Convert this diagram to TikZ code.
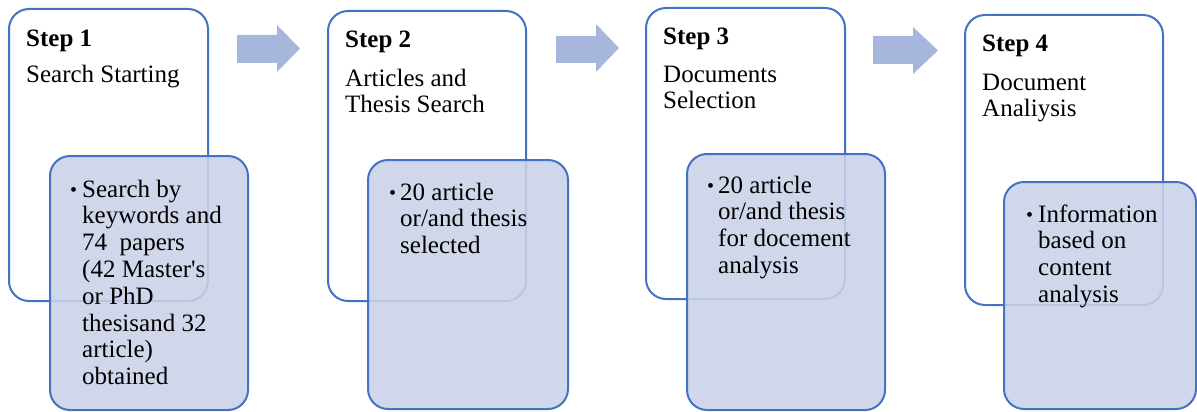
\documentclass[tikz,border=0pt]{standalone}
\usepackage{fontspec}
\setmainfont{Liberation Serif}
\definecolor{bordercol}{RGB}{68,114,196}
\definecolor{bluefill}{RGB}{202,210,232}
\definecolor{arrowcol}{RGB}{166,182,220}
\newcommand\mylines[1]{\parbox[t]{300pt}{\raggedright #1}}
\tikzset{
  stepbox/.style={draw=bordercol, line width=2pt, rounded corners=20pt, fill=white, inner sep=0pt, anchor=north west},
  detailbox/.style={draw=bordercol, line width=2pt, rounded corners=20pt, fill=bluefill, fill opacity=0.88, draw opacity=1, inner sep=0pt, anchor=north west},
  headtxt/.style={anchor=base west, inner sep=0pt, font=\bfseries\fontsize{25}{26}\selectfont},
  bodytxt/.style={anchor=base west, inner sep=0pt, font=\fontsize{25}{26}\selectfont},
  itemtxt/.style={anchor=base west, inner sep=0pt, font=\fontsize{25}{26.8}\selectfont},
  bul/.style={anchor=base west, inner sep=0pt, font=\fontsize{20}{20}\selectfont},
  blockarrow/.style={fill=arrowcol, draw=none}
}
\begin{document}
\begin{tikzpicture}[x=1pt,y=-1pt]
\useasboundingbox (0,0) rectangle (1197,412);
% arrows
\fill[blockarrow] (237,35) -- (277,35) -- (277,25) -- (300,48.5) -- (277,72) -- (277,63) -- (237,63) -- cycle;
\fill[blockarrow] (556,36) -- (596,36) -- (596,24) -- (619,48) -- (596,72) -- (596,63) -- (556,63) -- cycle;
\fill[blockarrow] (873,36) -- (913,36) -- (913,27) -- (938,50.5) -- (913,74) -- (913,64) -- (873,64) -- cycle;
% step 1
\node[stepbox, minimum width=199pt, minimum height=292pt] (s1) at (8,8) {};
\node[headtxt] (h1) at (26,47) {Step 1};
\node[bodytxt] (d1) at (26,83) {\mylines{Search Starting}};
\node[detailbox, minimum width=198pt, minimum height=254pt] (b1) at (49,155) {};
\node[bul] (p1) at (70,196) {\textbullet};
\node[itemtxt] (i1) at (82,197) {\mylines{Search by\\keywords and\\74\ \ papers\\(42 Master\textquotesingle s\\or PhD\\thesisand 32\\article)\\obtained}};
% step 2
\node[stepbox, minimum width=198pt, minimum height=290pt] (s2) at (327,10) {};
\node[headtxt] (h2) at (345,48) {Step 2};
\node[bodytxt] (d2) at (345,86) {\mylines{Articles and\\Thesis Search}};
\node[detailbox, minimum width=200pt, minimum height=249pt] (b2) at (367,159) {};
\node[bul] (p2) at (389,199) {\textbullet};
\node[itemtxt] (i2) at (400,200) {\mylines{20 article\\or/and thesis\\selected}};
% step 3
\node[stepbox, minimum width=199pt, minimum height=291pt] (s3) at (645,7) {};
\node[headtxt] (h3) at (663,45) {Step 3};
\node[bodytxt] (d3) at (663,82) {\mylines{Documents\\Selection}};
\node[detailbox, minimum width=198pt, minimum height=256pt] (b3) at (686,153) {};
\node[bul] (p3) at (707,192) {\textbullet};
\node[itemtxt] (i3) at (718,193) {\mylines{20 article\\or/and thesis\\for docement\\analysis}};
% step 4
\node[stepbox, minimum width=198pt, minimum height=290pt] (s4) at (964,14) {};
\node[headtxt] (h4) at (982,52) {Step 4};
\node[bodytxt] (d4) at (982,90) {\mylines{Document\\Analiysis}};
\node[detailbox, minimum width=192pt, minimum height=227pt] (b4) at (1003,181) {};
\node[bul] (p4) at (1026,221) {\textbullet};
\node[itemtxt] (i4) at (1038,222) {\mylines{Information\\based on\\content\\analysis}};
\end{tikzpicture}
\end{document}
